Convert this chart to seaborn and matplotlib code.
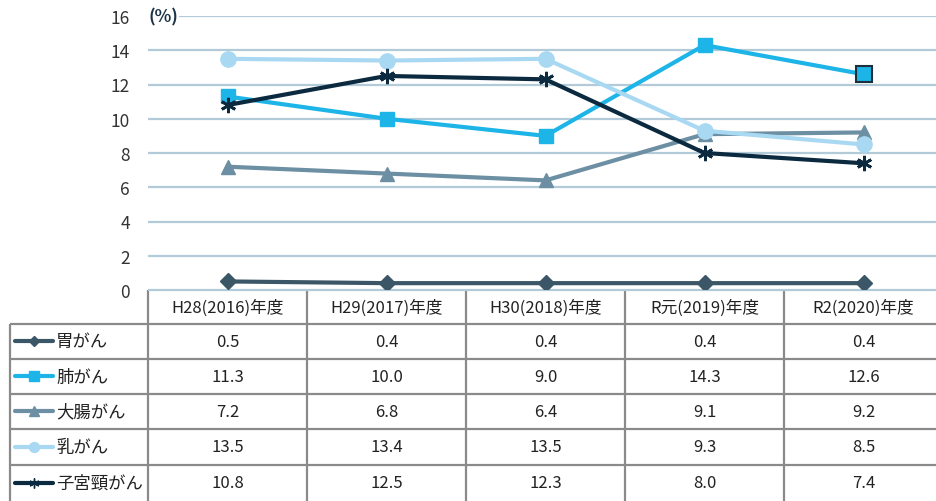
import pandas as pd
import seaborn as sns
import matplotlib.pyplot as plt

# data
years = ['H28(2016)年度', 'H29(2017)年度', 'H30(2018)年度', 'R元(2019)年度', 'R2(2020)年度']
series_names = ['胃がん', '肺がん', '大腸がん', '乳がん', '子宮頸がん']
stomach = [0.5, 0.4, 0.4, 0.4, 0.4]
lung = [11.3, 10.0, 9.0, 14.3, 12.6]
colon = [7.2, 6.8, 6.4, 9.1, 9.2]
breast = [13.5, 13.4, 13.5, 9.3, 8.5]
cervix = [10.8, 12.5, 12.3, 8.0, 7.4]
y_ticks = [0, 2, 4, 6, 8, 10, 12, 14, 16]

values = [stomach, lung, colon, breast, cervix]
colors = ['#3b5667', '#1db4e8', '#6c8fa3', '#a9d9f2', '#0c2a3f']
markers = ['D', 's', '^', 'o', (6, 2, 0)]
msizes = [8, 10, 10, 11, 11]

rows = []
for name, vals in zip(series_names, values):
    for i, v in enumerate(vals):
        rows.append({'series': name, 'x': i, 'value': v})
df = pd.DataFrame(rows)

sns.set_style('white')
plt.rcParams['font.family'] = ['Noto Sans CJK JP', 'DejaVu Sans']

W, H = 937, 502
COLW = 159
fig = plt.figure(figsize=(W / 100, H / 100), dpi=100)
ax = fig.add_axes([148 / W, (H - 291) / H, 5 * COLW / W, 274 / H])

for ytk in y_ticks:
    ax.axhline(ytk, color='#b3cad8', lw=1.6, zorder=0)

for name, c, m, ms in zip(series_names, colors, markers, msizes):
    sns.lineplot(data=df[df['series'] == name], x='x', y='value', ax=ax,
                 color=c, lw=3, marker=m, markersize=ms,
                 markeredgecolor=c, markeredgewidth=2 if name == '子宮頸がん' else 1,
                 zorder=3, legend=False)

# last lung marker has a dark outline in the reference
ax.plot([len(lung) - 1], [lung[-1]], marker='s', markersize=11, color=colors[1],
        markeredgecolor='#1d2f3c', markeredgewidth=1.5, zorder=4)

ax.set_xlim(-0.5, 4.5)
ax.set_ylim(0, 16)
ax.set_yticks(y_ticks)
ax.set_yticklabels([str(t) for t in y_ticks], fontsize=12.5, color='#333333')
ax.set_xticks([])
ax.tick_params(axis='y', length=0, pad=13)
ax.set_xlabel('')
ax.set_ylabel('')
for sp in ax.spines.values():
    sp.set_visible(False)
ax.text(-0.5, 16, '(%)', fontsize=12.5, fontweight='bold', color='#1d3448',
        ha='left', va='center', bbox=dict(facecolor='white', edgecolor='none', pad=1))

# data table underneath
tax = fig.add_axes([0, 0, 1, (H - 291) / H])
tax.set_xlim(0, W)
tax.set_ylim(H, 291)
tax.axis('off')

col_edges = [148 + COLW * i for i in range(6)]
row_edges = [291, 325, 360, 395, 430, 466, 502]
grid_c = '#8a8a8a'
for x in col_edges:
    tax.vlines(x, 291, H, color=grid_c, lw=1.6)
tax.vlines(10, 325, H, color=grid_c, lw=1.6)
for y in row_edges[1:-1]:
    tax.hlines(y, 10, W, color=grid_c, lw=1.6)
tax.hlines(291, 148, W, color='#b3cad8', lw=1.6)

for i, yr in enumerate(years):
    cx = (col_edges[i] + col_edges[i + 1]) / 2
    tax.text(cx, (row_edges[0] + row_edges[1]) / 2, yr, ha='center', va='center',
             fontsize=12, color='#222222')

for r, (name, vals, c, m, ms) in enumerate(zip(series_names, values, colors, markers, msizes)):
    cy = (row_edges[r + 1] + row_edges[r + 2]) / 2
    tax.plot([15, 53], [cy, cy], color=c, lw=3, solid_capstyle='round')
    tax.plot([34], [cy], marker=m, markersize=ms * 0.65, color=c, markeredgecolor=c)
    tax.text(56, cy, name, ha='left', va='center', fontsize=12.5, color='#222222')
    for i, v in enumerate(vals):
        cx = (col_edges[i] + col_edges[i + 1]) / 2
        tax.text(cx, cy, f'{v:.1f}', ha='center', va='center', fontsize=12, color='#222222')

fig.savefig('out.png', dpi=100)
